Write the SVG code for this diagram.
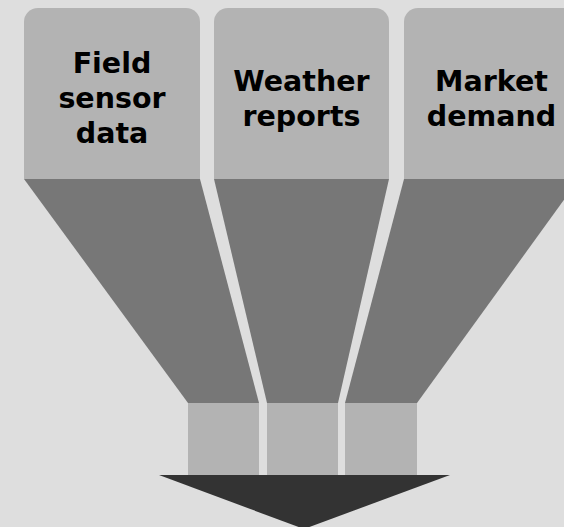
<svg xmlns="http://www.w3.org/2000/svg" width="564" height="527" viewBox="0 0 564 527">
<style>
.bg{fill:#dedede}
.box{fill:#b3b3b3}
.funnel{fill:#777777}
.out{fill:#b3b3b3}
.arrow{fill:#333333}
.lbl{font-family:"DejaVu Sans",Verdana,sans-serif;font-weight:bold;font-size:28.5px;fill:#000000;text-anchor:middle}
</style>
<rect class="bg" x="0" y="0" width="564" height="527"/>
<g id="node-field">
<path class="box" d="M24,179 V22 A14,14 0 0 1 38,8 H186 A14,14 0 0 1 200,22 V179 Z"/>
<polygon class="funnel" points="24,179 200,179 259,403 188,403"/>
<rect class="out" x="188" y="403" width="71" height="72"/>
<text class="lbl" x="112" y="72.5">Field</text>
<text class="lbl" x="112" y="107.5">sensor</text>
<text class="lbl" x="112" y="142.5">data</text>
</g>
<g id="node-weather">
<path class="box" d="M214,179 V22 A14,14 0 0 1 228,8 H375 A14,14 0 0 1 389,22 V179 Z"/>
<polygon class="funnel" points="214,179 389,179 338,403 267,403"/>
<rect class="out" x="267" y="403" width="71" height="72"/>
<text class="lbl" x="301.5" y="90.5">Weather</text>
<text class="lbl" x="301.5" y="125.5">reports</text>
</g>
<g id="node-market">
<path class="box" d="M404,179 V22 A14,14 0 0 1 418,8 H565 A14,14 0 0 1 579,22 V179 Z"/>
<polygon class="funnel" points="404,179 579,179 417,403 345,403"/>
<rect class="out" x="345" y="403" width="72" height="72"/>
<text class="lbl" x="491.5" y="90.5">Market</text>
<text class="lbl" x="491.5" y="125.5">demand</text>
</g>
<g id="connectors">
<polygon class="arrow" points="159,475 450,475 304,529"/>
</g>
</svg>
